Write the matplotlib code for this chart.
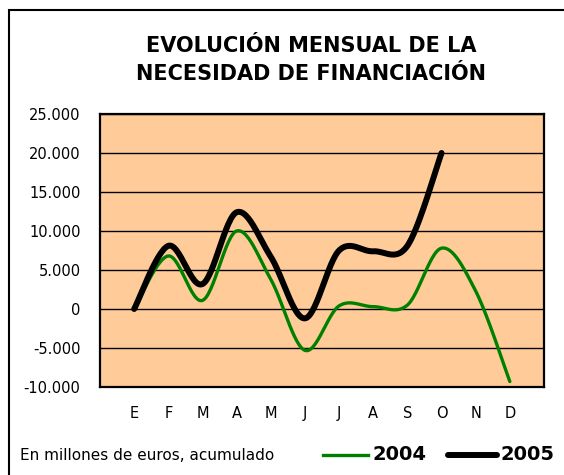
import numpy as np
import matplotlib
matplotlib.use("Agg")
import matplotlib.pyplot as plt
from matplotlib.patches import Rectangle
from matplotlib.lines import Line2D

months = ["E", "F", "M", "A", "M", "J", "J", "A", "S", "O", "N", "D"]
values_2004 = [0, 6800, 1100, 10000, 3800, -5300, 400, 300, 500, 7800, 2300, -9300]
values_2005 = [0, 8100, 3200, 12400, 6700, -1200, 7500, 7400, 8100, 20000]
yticks = [-10000, -5000, 0, 5000, 10000, 15000, 20000, 25000]
ytick_labels = ["-10.000", "-5.000", "0", "5.000", "10.000", "15.000", "20.000", "25.000"]


def smooth(y, n=30):
    """Excel-style smoothed line (cubic Bezier with Catmull-Rom tangents)."""
    x = np.arange(len(y), dtype=float)
    y = np.asarray(y, dtype=float)
    pts = np.column_stack([x, y])
    out = [pts[0]]
    for i in range(len(pts) - 1):
        p0 = pts[i - 1] if i > 0 else pts[i]
        p1 = pts[i]
        p2 = pts[i + 1]
        p3 = pts[i + 2] if i + 2 < len(pts) else pts[i + 1]
        c1 = p1 + (p2 - p0) / 6.0
        c2 = p2 - (p3 - p1) / 6.0
        t = np.linspace(0, 1, n)[1:, None]
        seg = ((1 - t) ** 3) * p1 + 3 * ((1 - t) ** 2) * t * c1 + 3 * (1 - t) * t ** 2 * c2 + t ** 3 * p2
        out.extend(seg)
    out = np.array(out)
    return out[:, 0], out[:, 1]


W, H = 564, 475
fig = plt.figure(figsize=(W / 100, H / 100), dpi=100)
fig.patch.set_facecolor("white")

# outer frame (cropped at right/bottom)
fig.patches.append(Rectangle((9 / W, -0.1), 1.2, 1 - 10 / H + 0.1, transform=fig.transFigure,
                             fill=False, edgecolor="black", linewidth=1.5))

ax = fig.add_axes([100 / W, 1 - 387 / H, 444 / W, 273 / H])
ax.set_facecolor("#FFCC99")

xs, ys = smooth(values_2004)
ax.plot(xs, ys, color="#008000", lw=2.4, solid_capstyle="round", zorder=3)
xs, ys = smooth(values_2005)
ax.plot(xs, ys, color="black", lw=4.3, solid_capstyle="round", zorder=4)

ax.set_xlim(-1, 12)
ax.set_ylim(-10000, 25000)
ax.set_yticks(yticks)
ax.set_yticklabels(ytick_labels, fontsize=10.5)
ax.set_xticks(range(len(months)))
ax.set_xticklabels(months, fontsize=10.5)
ax.tick_params(axis="both", length=0)
ax.tick_params(axis="y", pad=14)
ax.tick_params(axis="x", pad=14)
ax.yaxis.grid(True, color="black", lw=1.0)
ax.set_axisbelow(True)
for s in ax.spines.values():
    s.set_linewidth(1.6)
    s.set_color("black")

fig.text(311 / W, 1 - 46 / H, "EVOLUCIÓN MENSUAL DE LA", ha="center", va="center",
         fontsize=15, fontweight="bold")
fig.text(311 / W, 1 - 74 / H, "NECESIDAD DE FINANCIACIÓN", ha="center", va="center",
         fontsize=15, fontweight="bold")

fig.text(20 / W, 1 - 455 / H, "En millones de euros, acumulado", ha="left", va="center", fontsize=11)

fig.lines.append(Line2D([323 / W, 368 / W], [1 - 455 / H, 1 - 455 / H], transform=fig.transFigure,
                        color="#008000", lw=2.4))
fig.text(373 / W, 1 - 455 / H, "2004", ha="left", va="center", fontsize=14, fontweight="bold")
fig.lines.append(Line2D([448 / W, 497 / W], [1 - 455 / H, 1 - 455 / H], transform=fig.transFigure,
                        color="black", lw=4.3, solid_capstyle="round"))
fig.text(501 / W, 1 - 455 / H, "2005", ha="left", va="center", fontsize=14, fontweight="bold")

fig.savefig("out.png", dpi=100)
